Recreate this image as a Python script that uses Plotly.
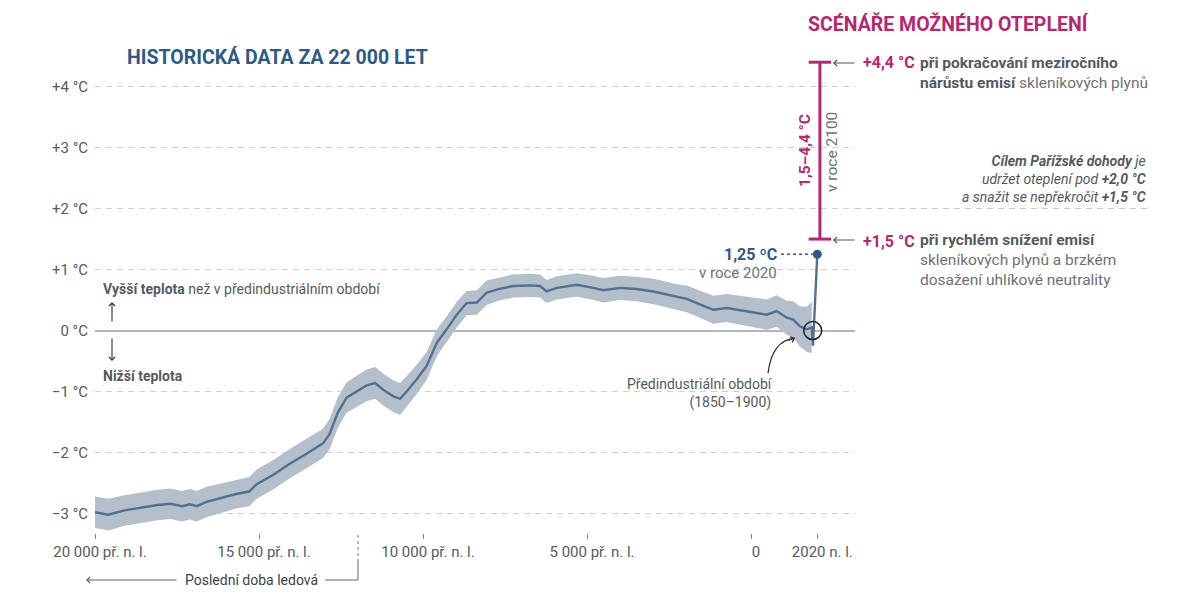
import plotly.graph_objects as go

# rekonstrukce teploty (odchylka od předindustriálního období, °C)
years = [-20000, -19600, -19100, -18600, -18100, -17700, -17350, -17100, -16900, -16600,
         -16100, -15700, -15300, -15070, -14550, -14050, -13550, -13050, -12850, -12600,
         -12330, -12020, -11720, -11460, -11210, -10900, -10700, -10500, -10190, -9890,
         -9580, -9280, -8970, -8670, -8360, -8060, -7700, -7250, -6740, -6430,
         -6230, -5920, -5310, -4810, -4500, -3990, -3490, -2980, -2570, -2270,
         -1960, -1560, -1150, -740, -130, 480, 780, 1090, 1290, 1490, 1700, 1850]
temps = [-2.98, -3.02, -2.95, -2.90, -2.86, -2.84, -2.88, -2.85, -2.88, -2.81,
         -2.74, -2.68, -2.64, -2.52, -2.36, -2.18, -2.02, -1.85, -1.70, -1.35,
         -1.10, -1.00, -0.90, -0.86, -0.97, -1.08, -1.12, -1.00, -0.80, -0.58,
         -0.20, 0.02, 0.26, 0.45, 0.46, 0.62, 0.68, 0.73, 0.74, 0.73,
         0.64, 0.70, 0.75, 0.70, 0.66, 0.70, 0.68, 0.64, 0.59, 0.55,
         0.52, 0.43, 0.34, 0.37, 0.32, 0.26, 0.32, 0.21, 0.18, 0.07, 0.02, 0.05]
spread = [0.26, 0.26, 0.25, 0.25, 0.25, 0.25, 0.25, 0.25, 0.25, 0.25,
          0.24, 0.24, 0.24, 0.24, 0.24, 0.24, 0.24, 0.24, 0.25, 0.25,
          0.25, 0.25, 0.26, 0.26, 0.26, 0.26, 0.26, 0.25, 0.24, 0.23,
          0.22, 0.21, 0.21, 0.20, 0.20, 0.20, 0.19, 0.19, 0.19, 0.19,
          0.19, 0.19, 0.19, 0.20, 0.20, 0.20, 0.20, 0.21, 0.21, 0.21,
          0.22, 0.22, 0.23, 0.23, 0.24, 0.25, 0.26, 0.28, 0.30, 0.33, 0.37, 0.42]

# měřené období
modern_years = [1890, 2020]
modern_temps = [-0.25, 1.25]

# scénáře pro rok 2100
scenario_year = 2100
scenario_low = 1.5
scenario_high = 4.4

x_ticks = [-20000, -15000, -10000, -5000, 0, 2020]
x_labels = ["20 000 př. n. l.", "15 000 př. n. l.", "10 000 př. n. l.", "5 000 př. n. l.", "0", "2020 n. l."]
y_ticks = [-3, -2, -1, 0, 1, 2, 3, 4]
y_labels = ["−3 °C", "−2 °C", "−1 °C", "0 °C", "+1 °C", "+2 °C", "+3 °C", "+4 °C"]

BLUE = "#2d5a84"
LINE = "#52708f"
BAND = "#b4bfcb"
MAG = "#b5276e"
GREY = "#555a5f"
LIGHT = "#6e7175"
FONT = "Roboto"

# plocha grafu v pixelech obrázku (stránka přidává 8 px okraj)
L, R, T, B = 95, 855, 50, 533
PAGE = 8


def X(p):
    return (p - L) / (R - L)


def Y(p):
    return (B - p) / (B - T)


upper = [t + s for t, s in zip(temps, spread)]
lower = [t - s for t, s in zip(temps, spread)]

fig = go.Figure()
fig.add_trace(go.Scatter(x=years, y=upper, mode="lines", line=dict(width=0),
                         hoverinfo="skip", showlegend=False))
fig.add_trace(go.Scatter(x=years, y=lower, mode="lines", line=dict(width=0),
                         fill="tonexty", fillcolor=BAND, hoverinfo="skip", showlegend=False))
fig.add_trace(go.Scatter(x=years + modern_years, y=temps + modern_temps, mode="lines",
                         line=dict(color=LINE, width=2.4), showlegend=False))
fig.add_trace(go.Scatter(x=modern_years[-1:], y=modern_temps[-1:], mode="markers",
                         marker=dict(color=BLUE, size=9), showlegend=False, cliponaxis=False))
fig.add_trace(go.Scatter(x=[scenario_year, scenario_year], y=[scenario_low, scenario_high],
                         mode="lines+markers", line=dict(color=MAG, width=3),
                         marker=dict(symbol="line-ew", size=16, color=MAG, line=dict(color=MAG, width=3)),
                         showlegend=False, cliponaxis=False))

ann = []


def text(x, y, s, size=15, color=GREY, xanchor="left", align="left", angle=0):
    ann.append(dict(x=X(x), y=Y(y), xref="paper", yref="paper", text=s, showarrow=False,
                    xanchor=xanchor, yanchor="middle", align=align, textangle=angle,
                    font=dict(family=FONT, size=size, color=color)))


def arrow(x, y, ax, ay, color="#555"):
    ann.append(dict(x=X(x), y=Y(y), xref="paper", yref="paper", text="", showarrow=True,
                    ax=ax, ay=ay, arrowhead=4, arrowsize=1, arrowwidth=1.2, arrowcolor=color))


text(125, 57, "<b>HISTORICKÁ DATA ZA 22 000 LET</b>", size=19.5, color=BLUE)
text(806, 24, "<b>SCÉNÁŘE MOŽNÉHO OTEPLENÍ</b>", size=19.5, color=MAG)

arrow(833, 63, 23, 0)
text(861, 63, "<b>+4,4 °C</b>", size=16, color=MAG)
text(918, 72.5, "<b>při pokračování meziročního</b><br><b>nárůstu emisí</b> "
     f"<span style='color:{LIGHT}'>skleníkových plynů</span>", size=15.5)

arrow(833, 240, 23, 0)
text(861, 241, "<b>+1,5 °C</b>", size=16, color=MAG)
text(918, 260.5, "<b>při rychlém snížení emisí</b><br>"
     f"<span style='color:{LIGHT}'>skleníkových plynů a brzkém<br>dosažení uhlíkové neutrality</span>", size=15.5)

text(1148, 179.5, "<i><b>Cílem Pařížské dohody</b> je</i><br><i>udržet oteplení pod <b>+2,0 °C</b></i>"
     "<br><i>a snažit se nepřekročit <b>+1,5 °C</b></i>", size=14, xanchor="right", align="right")

text(805, 151, "<b>1,5–4,4 °C</b>", size=15.5, color=MAG, xanchor="center", angle=-90)
text(832, 152, "v roce 2100", size=15.5, color=LIGHT, xanchor="center", angle=-90)

text(779, 255, "<b>1,25 ºC</b>", size=16, color=BLUE, xanchor="right")
text(779, 273, "v roce 2020", size=15, color=LIGHT, xanchor="right")

text(774, 393, "Předindustriální období<br>(1850–1900)", size=14, xanchor="right", align="right")

text(101, 289, "<b>Vyšší teplota</b> než v předindustriálním období", size=14)
arrow(112, 302, 0, 21, color="#444")
arrow(112, 361, 0, -24, color="#444")
text(101, 376, "<b>Nižší teplota</b>", size=14)

text(251, 580, "Poslední doba ledová", size=14, color="#3e4247", xanchor="center")
arrow(86, 580, 92, 0, color="#666")

ann.append(dict(x=1341, y=-0.123, xref="x", yref="y", text="", showarrow=True, ax=-8, ay=3,
                arrowhead=4, arrowsize=1, arrowwidth=1.2, arrowcolor="#333"))

shapes = [
    dict(type="line", xref="paper", yref="y", x0=1, x1=X(1150), y0=2, y1=2,
         line=dict(color="#c8c8c8", width=1, dash="6px,5px")),
    dict(type="line", xref="x", yref="y", x0=915, x1=1985, y0=1.25, y1=1.25,
         line=dict(color=BLUE, width=1.5, dash="dot")),
    dict(type="circle", xref="x", yref="y", xsizemode="pixel", ysizemode="pixel",
         xanchor=1880, yanchor=0, x0=-9, x1=9, y0=-9, y1=9,
         line=dict(color="#222", width=1.5)),
    dict(type="path", xref="x", yref="y", path="M 518,-0.70 Q 640,-0.156 1341,-0.123",
         line=dict(color="#333", width=1.3)),
    dict(type="line", xref="paper", yref="paper", x0=X(358), x1=X(358), y0=Y(535), y1=Y(560),
         line=dict(color="#777", width=1, dash="dot")),
    dict(type="line", xref="paper", yref="paper", x0=X(358), x1=X(358), y0=Y(560), y1=Y(580),
         line=dict(color="#666", width=1)),
    dict(type="line", xref="paper", yref="paper", x0=X(325), x1=X(358), y0=Y(580), y1=Y(580),
         line=dict(color="#666", width=1)),
]

fig.update_layout(
    width=1200 - PAGE, height=604 - PAGE,
    margin=dict(l=L - PAGE, r=1200 - R, t=T - PAGE, b=604 - B),
    paper_bgcolor="white", plot_bgcolor="white",
    showlegend=False,
    font=dict(family=FONT, color=GREY),
    annotations=ann,
    shapes=shapes,
    xaxis=dict(range=[-20000, 3170], tickvals=x_ticks, ticktext=x_labels,
               ticks="outside", ticklen=5, tickcolor="#888", tickwidth=1,
               showgrid=False, zeroline=False, showline=False, ticklabelshift=5,
               tickfont=dict(family=FONT, size=15, color=GREY)),
    yaxis=dict(range=[-3.32, 4.6], tickvals=y_ticks, ticktext=y_labels,
               showgrid=True, gridcolor="#d0d0d0", gridwidth=1, griddash="6px,5px",
               zeroline=True, zerolinecolor="#aeb6bf", zerolinewidth=2,
               showline=False, ticklabelstandoff=6,
               tickfont=dict(family=FONT, size=15, color=GREY)),
)

fig.write_html("out.html")
